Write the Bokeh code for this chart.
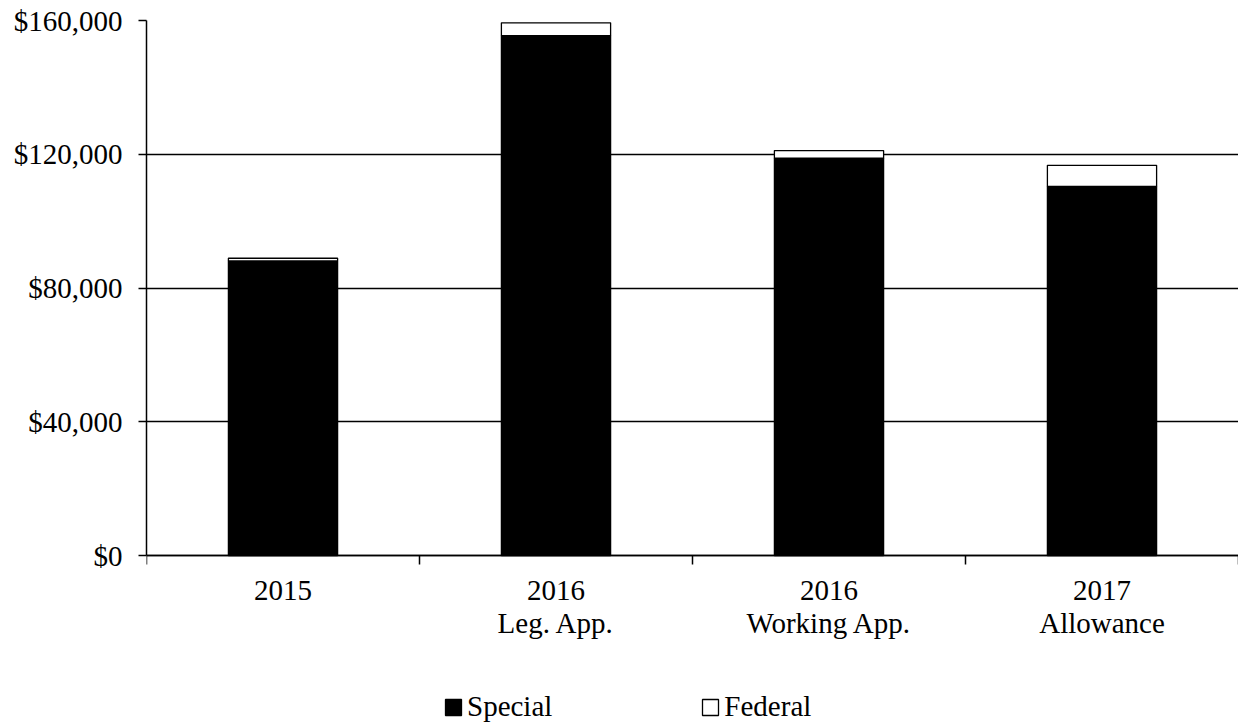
from bokeh.plotting import figure
from bokeh.models import (Range1d, FixedTicker, NumeralTickFormatter, Label,
                          Legend, LegendItem, ColumnDataSource)
from bokeh.embed import file_html
from bokeh.resources import INLINE

categories = ["2015", "2016\nLeg. App.", "2016\nWorking App.", "2017\nAllowance"]
special = [88100, 155500, 118800, 110400]
federal = [800, 3800, 2300, 6300]
y_ticks = [0, 40000, 80000, 120000, 160000]

FONT = "Liberation Serif"
FS = "29px"

# frame: x 146..1238, y 20..725 ; value 0 at pixel 555, 160000 at pixel 20
px_per_unit = 535 / 160000.0
y_bottom = -(725 - 555) / px_per_unit

xs = [i + 0.5 for i in range(len(categories))]
src = ColumnDataSource(dict(
    x=xs,
    special=special,
    total=[s + f for s, f in zip(special, federal)],
))

p = figure(width=1238, height=725, output_backend="svg", toolbar_location=None,
           x_range=Range1d(0, len(categories)), y_range=Range1d(y_bottom, 160000),
           min_border_left=146, min_border_right=0, min_border_top=20,
           min_border_bottom=0)
p.outline_line_color = None
p.background_fill_color = "white"
p.border_fill_color = "white"

r_sp = p.vbar(x="x", width=0.40, bottom=0, top="special", source=src,
              fill_color="black", line_color="black", line_width=1.3)
r_fe = p.vbar(x="x", width=0.40, bottom="special", top="total", source=src,
              fill_color="white", line_color="black", line_width=1.3)

# grid
p.xgrid.visible = False
p.ygrid.ticker = FixedTicker(ticks=y_ticks)
p.ygrid.grid_line_color = "black"
p.ygrid.grid_line_width = 1.5

# y axis
ya = p.yaxis[0]
ya.ticker = FixedTicker(ticks=y_ticks)
ya.bounds = (0, 160000)
ya.formatter = NumeralTickFormatter(format="$0,0")
ya.major_label_text_font = FONT
ya.major_label_text_font_size = FS
ya.major_label_text_color = "black"
ya.major_tick_out = 8
ya.major_tick_in = 0
ya.minor_tick_out = 0
ya.minor_tick_in = 0
ya.major_label_standoff = 16
ya.axis_line_color = "black"
ya.axis_line_width = 1.5
ya.major_tick_line_width = 1.5

# x axis at value 0: (minor) ticks at category boundaries, labels drawn separately
xa = p.xaxis[0]
xa.fixed_location = 0
xa.ticker = FixedTicker(ticks=[], minor_ticks=list(range(len(categories) + 1)))
xa.major_tick_out = 0
xa.major_tick_in = 0
xa.minor_tick_out = 9
xa.minor_tick_in = 0
xa.minor_tick_line_color = "black"
xa.minor_tick_line_width = 1.5
xa.axis_line_color = "black"
xa.axis_line_width = 1.5

# category labels
for x, cat in zip(xs, categories):
    for j, line in enumerate(cat.split("\n")):
        base_px = 590 + j * 32.5
        p.add_layout(Label(x=x, y=-(base_px - 555) / px_per_unit, text=line,
                           text_align="center", text_baseline="alphabetic",
                           text_font=FONT, text_font_size=FS,
                           text_color="black"))

legend = Legend(items=[LegendItem(label="Special", renderers=[r_sp]),
                       LegendItem(label="Federal", renderers=[r_fe])],
                orientation="horizontal", location=(297, 2),
                label_text_font=FONT, label_text_font_size=FS,
                label_text_color="black",
                label_standoff=4, glyph_width=20, glyph_height=20,
                spacing=148, padding=0, margin=0,
                border_line_color=None, background_fill_alpha=0)
p.add_layout(legend, "center")

open("out.html", "w").write(file_html(p, INLINE))
